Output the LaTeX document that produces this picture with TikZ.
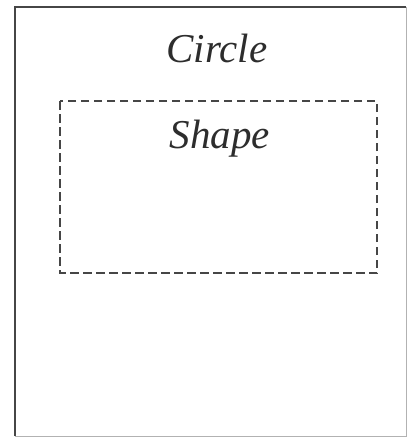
\documentclass[tikz,border=0pt]{standalone}
\usepackage{fontspec}
\setmainfont{Liberation Serif}
\usetikzlibrary{positioning}
\definecolor{framegray}{RGB}{70,70,70}
\definecolor{textgray}{RGB}{45,45,45}

\begin{document}
\begin{tikzpicture}[x=1pt, y=-1pt, every node/.style={font=\fontsize{41}{48}\selectfont\itshape, text=textgray}]
    \useasboundingbox (0,0) rectangle (408,437);
    % Circle
    \draw[framegray, line width=2.8pt] (15,436) -- (15,7) -- (406,7);
    \draw[black!30, line width=1pt] (406,7) -- (406,436) -- (15,436);
    \node[anchor=base] (circlelabel) at (217,62) {Circle};

    % Shape
    \draw[framegray, line width=2.4pt, dash pattern=on 8.5pt off 4.5pt] (60,101) rectangle (377,273);
    \node[anchor=base] (shapelabel) at (220,148) {Shape};
\end{tikzpicture}
\end{document}
